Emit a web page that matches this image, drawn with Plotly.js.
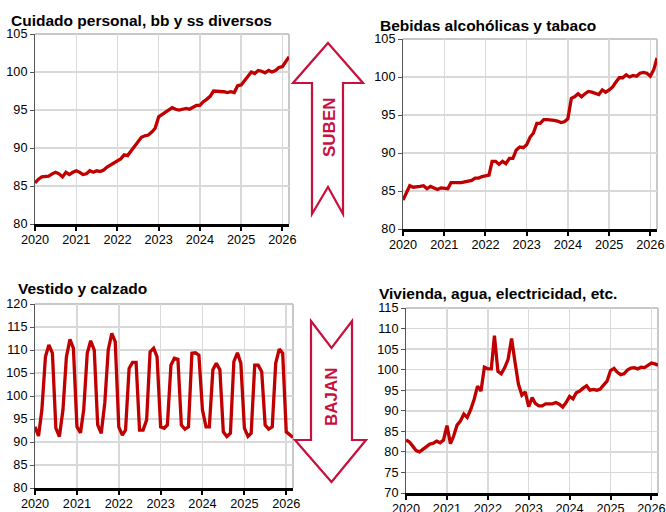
<!DOCTYPE html>
<html>
<head>
<meta charset="utf-8">
<script src="https://cdn.plot.ly/plotly-3.0.1.min.js"></script>
<style>html,body{margin:0;padding:0;background:#fff;}#chart{width:666px;height:512px;}</style>
</head>
<body>
<div id="chart"></div>
<script>
// ---- Data (monthly, Jan 2020 – Mar 2026) ----
const startYear = 2020, nMonths = 75;
const titles = ["Cuidado personal, bb y ss diversos", "Bebidas alcohólicas y tabaco", "Vestido y calzado", "Vivienda, agua, electricidad, etc."];
const yearTicks = ["2020", "2021", "2022", "2023", "2024", "2025", "2026"];
const arrowLabels = ["SUBEN", "BAJAN"];

const cuidado = [
  85.4, 85.9, 86.2, 86.2, 86.3, 86.6, 86.8, 86.6, 86.2, 86.8, 86.5, 86.8,
  87.0, 86.8, 86.5, 86.6, 87.0, 86.8, 87.0, 86.9, 87.1, 87.5, 87.8, 88.1,
  88.4, 88.6, 89.1, 89.0, 89.6, 90.2, 90.8, 91.4, 91.6, 91.7, 92.1, 92.6,
  94.1, 94.4, 94.6, 94.9, 95.3, 95.1, 95.0, 95.1, 95.2, 95.1, 95.4, 95.6,
  95.6, 96.1, 96.4, 96.8, 97.5, 97.5, 97.4, 97.4, 97.3, 97.4, 97.3, 98.2,
  98.3, 98.9, 99.5, 100.0, 99.8, 100.2, 100.1, 99.9, 100.2, 100.0, 100.2, 100.6,
  100.7, 101.3, 102.0
];
const bebidas = [
  83.8, 84.7, 85.7, 85.5, 85.5, 85.6, 85.7, 85.3, 85.6, 85.4, 85.2, 85.4,
  85.4, 85.3, 86.1, 86.1, 86.0, 86.1, 86.2, 86.3, 86.4, 86.7, 86.7, 86.9,
  87.0, 87.1, 88.9, 88.9, 88.5, 88.9, 88.6, 89.3, 89.3, 90.4, 90.8, 90.7,
  91.1, 92.1, 92.6, 93.9, 93.9, 94.4, 94.4, 94.4, 94.3, 94.2, 94.0, 94.1,
  94.5, 97.2, 97.4, 97.8, 97.4, 97.8, 98.1, 98.0, 97.9, 97.7, 98.3, 98.0,
  98.3, 98.7, 99.3, 99.9, 99.9, 100.3, 100.0, 100.2, 100.1, 100.5, 100.6, 100.5,
  100.1, 101.0, 102.5
];
const vestido = [
  93.3, 91.3, 97.0, 108.5, 111.1, 109.3, 93.0, 91.2, 97.0, 108.5, 112.3, 110.4,
  93.3, 92.0, 97.0, 109.3, 112.0, 110.0, 93.7, 91.9, 98.5, 110.0, 113.6, 111.8,
  93.3, 91.5, 92.6, 106.0, 107.3, 107.3, 92.6, 92.6, 94.8, 109.6, 110.4, 108.5,
  93.3, 93.0, 93.7, 106.7, 108.2, 108.0, 93.7, 92.8, 93.3, 109.3, 109.4, 108.9,
  97.0, 93.3, 93.3, 105.7, 107.1, 105.7, 92.2, 91.2, 91.9, 107.5, 109.4, 107.1,
  93.0, 91.2, 91.9, 106.7, 106.7, 105.3, 93.7, 92.8, 93.3, 107.1, 110.2, 109.3,
  92.2, 91.5, 91.0
];
const vivienda = [
  82.9, 82.4, 81.4, 80.3, 80.0, 80.6, 81.4, 81.9, 82.1, 82.6, 82.2, 82.9,
  86.4, 82.0, 83.8, 86.5, 87.5, 89.2, 88.4, 90.3, 92.8, 96.0, 94.8, 100.6,
  100.2, 100.2, 108.3, 99.6, 99.0, 100.5, 102.5, 107.6, 101.8, 96.5, 93.8, 94.6,
  91.0, 93.2, 91.8, 91.2, 91.2, 91.7, 91.7, 91.7, 92.0, 91.6, 90.9, 92.0,
  93.5, 92.9, 94.4, 94.8, 95.5, 96.1, 95.0, 95.2, 95.0, 95.3, 96.3, 97.2,
  99.8, 100.3, 99.4, 98.8, 99.0, 99.9, 100.4, 100.5, 100.2, 100.6, 100.5, 101.1,
  101.6, 101.4, 101.1
];

// month dates
const months = [];
for (let i = 0; i < nMonths; i++) {
  const y = startYear + Math.floor(i / 12), m = (i % 12) + 1;
  months.push(y + "-" + String(m).padStart(2, "0") + "-01");
}

// ---- Layout helpers ----
const W = 666, H = 512;
const PX = x => x / W, PY = y => 1 - y / H;
const RED = "#C00000", ARROW = "#C8103E";
const FONT = "Liberation Sans, Arial, sans-serif";

function xaxis(l, r, anchor) {
  return {
    domain: [PX(l), PX(r)], anchor: anchor, type: "date",
    range: [months[0], months[nMonths - 1]],
    tickvals: yearTicks.map(y => y + "-01-01"), ticktext: yearTicks,
    showgrid: true, gridcolor: "#d9d9d9", gridwidth: 1.5,
    showline: true, linecolor: "#000", linewidth: 3,
    ticks: "outside", ticklen: 4, tickwidth: 2, tickcolor: "#000",
    ticklabelstandoff: -2,
    tickfont: { family: FONT, size: 12.7, color: "#000" },
    zeroline: false, fixedrange: true
  };
}
function yaxis(t, b, anchor, lo, hi) {
  return {
    domain: [PY(b), PY(t)], anchor: anchor, range: [lo, hi], dtick: 5, tick0: lo,
    showgrid: true, gridcolor: "#d9d9d9", gridwidth: 1.5,
    showline: true, linecolor: "#555", linewidth: 1,
    ticks: "outside", ticklen: 4, tickwidth: 1, tickcolor: "#555",
    tickfont: { family: FONT, size: 12.7, color: "#000" },
    zeroline: false, fixedrange: true
  };
}

const series = [cuidado, bebidas, vestido, vivienda];
const traces = series.map((vals, k) => ({
  x: months, y: vals, type: "scatter", mode: "lines",
  line: { color: RED, width: 3.3 },
  xaxis: k === 0 ? "x" : "x" + (k + 1), yaxis: k === 0 ? "y" : "y" + (k + 1),
  hoverinfo: "skip", showlegend: false
}));

// border lines (top and right) in light grey
const shapes = [];
["", "2", "3", "4"].forEach(s => {
  shapes.push({ type: "line", xref: "x" + s + " domain", yref: "y" + s + " domain", x0: 0, x1: 1, y0: 1, y1: 1, line: { color: "#c8c8c8", width: 2 }, layer: "below" });
  shapes.push({ type: "line", xref: "x" + s + " domain", yref: "y" + s + " domain", x0: 1, x1: 1, y0: 0, y1: 1, line: { color: "#c8c8c8", width: 2 }, layer: "below" });
});

function poly(pts) {
  return "M " + pts.map(p => PX(p[0]).toFixed(5) + "," + PY(p[1]).toFixed(5)).join(" L ") + " Z";
}
// up arrow (SUBEN)
shapes.push({
  type: "path", xref: "paper", yref: "paper",
  path: poly([[328, 43], [363, 83], [343, 83], [343, 214], [328, 187], [312, 214], [312, 83], [293, 83]]),
  fillcolor: "#fff", line: { color: ARROW, width: 2.2 }
});
// down arrow (BAJAN)
shapes.push({
  type: "path", xref: "paper", yref: "paper",
  path: poly([[311, 321], [331.5, 348], [352, 321], [352, 440], [366, 440], [331.5, 482], [295, 440], [311, 440]]),
  fillcolor: "#fff", line: { color: ARROW, width: 2.2 }
});

const titlePos = [[9, 20], [378, 25], [16, 288], [377, 293]];
const annotations = titles.map((t, k) => ({
  text: "<b>" + t + "</b>", xref: "paper", yref: "paper",
  x: PX(titlePos[k][0]), y: PY(titlePos[k][1]), xanchor: "left", yanchor: "middle",
  showarrow: false, font: { family: FONT, size: 15.5, color: "#000" }
}));
annotations.push({
  text: "<b>" + arrowLabels[0] + "</b>", xref: "paper", yref: "paper", x: PX(329), y: PY(127),
  xanchor: "center", yanchor: "middle", textangle: -90, showarrow: false,
  font: { family: FONT, size: 17, color: ARROW }
});
annotations.push({
  text: "<b>" + arrowLabels[1] + "</b>", xref: "paper", yref: "paper", x: PX(331), y: PY(397),
  xanchor: "center", yanchor: "middle", textangle: -90, showarrow: false,
  font: { family: FONT, size: 17, color: ARROW }
});

const layout = {
  width: W, height: H, margin: { l: 0, r: 0, t: 0, b: 0 },
  paper_bgcolor: "#fff", plot_bgcolor: "#fff", showlegend: false,
  xaxis: xaxis(35, 289, "y"), yaxis: yaxis(34, 224, "x", 80, 105),
  xaxis2: xaxis(403, 657, "y2"), yaxis2: yaxis(39, 229, "x2", 80, 105),
  xaxis3: xaxis(35, 293, "y3"), yaxis3: yaxis(304, 488, "x3", 80, 120),
  xaxis4: xaxis(406, 658, "y4"), yaxis4: yaxis(308, 493, "x4", 70, 115),
  shapes: shapes, annotations: annotations
};

Plotly.newPlot("chart", traces, layout, { displayModeBar: false, staticPlot: true });
</script>
</body>
</html>
